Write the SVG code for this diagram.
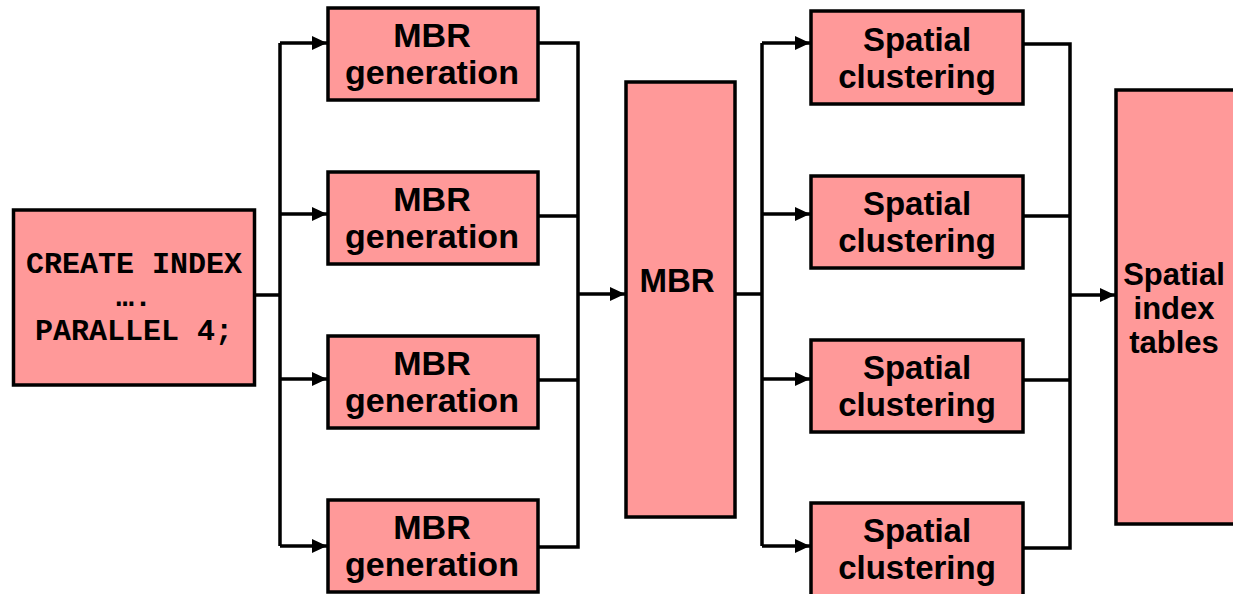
<svg xmlns="http://www.w3.org/2000/svg" width="1233" height="594" viewBox="0 0 1233 594">
  <style>
    .box { fill: #FF9999; stroke: #000; stroke-width: 3.5; }
    .lbl { font-family: "Liberation Sans", Arial, sans-serif; font-weight: bold; font-size: 33px; text-anchor: middle; fill: #000; }
    .lbl-gen { font-size: 34px; }
    .lbl-sm { font-size: 31px; }
    .code { font-family: "Liberation Mono", "Courier New", monospace; font-weight: bold; font-size: 30px; text-anchor: middle; fill: #000; }
    .wire { fill: none; stroke: #000; stroke-width: 3.5; stroke-linejoin: miter; }
    .arrow { fill: none; stroke: #000; stroke-width: 3.5; marker-end: url(#head); }
  </style>
  <defs>
    <marker id="head" markerWidth="15" markerHeight="14" refX="15" refY="7" orient="auto" markerUnits="userSpaceOnUse">
      <path d="M0,0 L15,7 L0,14 Z" fill="#000"/>
    </marker>
  </defs>

  <rect width="1233" height="594" fill="#fff"/>

  <!-- connectors -->
  <g id="connectors">
    <!-- statement to MBR generation workers -->
    <path class="wire" d="M255,295 H280 M280,43 V546"/>
    <path class="arrow" d="M280,43 H327"/>
    <path class="arrow" d="M280,214 H327"/>
    <path class="arrow" d="M280,379 H327"/>
    <path class="arrow" d="M280,546 H327"/>
    <!-- workers to MBR -->
    <path class="wire" d="M538,43 H578 V547 H538 M538,216 H578 M538,380 H578"/>
    <path class="arrow" d="M578,294 H625"/>
    <!-- MBR to spatial clustering workers -->
    <path class="wire" d="M735,294 H762 M762,43 V546"/>
    <path class="arrow" d="M762,43 H810"/>
    <path class="arrow" d="M762,214 H810"/>
    <path class="arrow" d="M762,379 H810"/>
    <path class="arrow" d="M762,546 H810"/>
    <!-- clustering workers to index tables -->
    <path class="wire" d="M1023,44 H1070 V548 H1023 M1023,216 H1070 M1023,380 H1070"/>
    <path class="arrow" d="M1070,295 H1115"/>
  </g>

  <!-- nodes -->
  <g id="create-index">
    <rect class="box" x="13.5" y="210" width="241" height="175"/>
    <text class="code" x="134" y="273">CREATE INDEX</text>
    <text class="code" x="134" y="306">….</text>
    <text class="code" x="134" y="340">PARALLEL 4;</text>
  </g>

  <g id="mbr-gen-1">
    <rect class="box" x="328" y="8" width="210" height="92"/>
    <text class="lbl lbl-gen" x="432" y="47">MBR</text>
    <text class="lbl lbl-gen" x="432" y="84">generation</text>
  </g>
  <g id="mbr-gen-2">
    <rect class="box" x="328" y="172" width="210" height="92"/>
    <text class="lbl lbl-gen" x="432" y="211">MBR</text>
    <text class="lbl lbl-gen" x="432" y="248">generation</text>
  </g>
  <g id="mbr-gen-3">
    <rect class="box" x="328" y="336" width="210" height="92"/>
    <text class="lbl lbl-gen" x="432" y="375">MBR</text>
    <text class="lbl lbl-gen" x="432" y="412">generation</text>
  </g>
  <g id="mbr-gen-4">
    <rect class="box" x="328" y="500" width="210" height="92"/>
    <text class="lbl lbl-gen" x="432" y="539">MBR</text>
    <text class="lbl lbl-gen" x="432" y="576">generation</text>
  </g>

  <g id="mbr">
    <rect class="box" x="626" y="82" width="109" height="435"/>
    <text class="lbl" x="677" y="292">MBR</text>
  </g>

  <g id="cluster-1">
    <rect class="box" x="811" y="11" width="212" height="93"/>
    <text class="lbl" x="917" y="51">Spatial</text>
    <text class="lbl" x="917" y="88">clustering</text>
  </g>
  <g id="cluster-2">
    <rect class="box" x="811" y="176" width="212" height="92"/>
    <text class="lbl" x="917" y="215">Spatial</text>
    <text class="lbl" x="917" y="252">clustering</text>
  </g>
  <g id="cluster-3">
    <rect class="box" x="811" y="340" width="212" height="92"/>
    <text class="lbl" x="917" y="379">Spatial</text>
    <text class="lbl" x="917" y="416">clustering</text>
  </g>
  <g id="cluster-4">
    <rect class="box" x="811" y="503" width="212" height="93"/>
    <text class="lbl" x="917" y="542">Spatial</text>
    <text class="lbl" x="917" y="579">clustering</text>
  </g>

  <g id="index-tables">
    <rect class="box" x="1116" y="90" width="130" height="434"/>
    <text class="lbl lbl-sm" x="1174" y="285">Spatial</text>
    <text class="lbl lbl-sm" x="1174" y="319">index</text>
    <text class="lbl lbl-sm" x="1174" y="353">tables</text>
  </g>
</svg>
